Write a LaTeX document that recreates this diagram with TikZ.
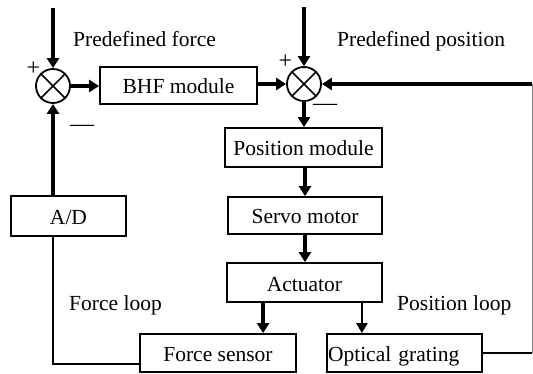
\documentclass[tikz,border=0pt]{standalone}
\usepackage{fontspec}
\setmainfont{Liberation Serif}
\usetikzlibrary{arrows.meta}
\begin{document}
\begin{tikzpicture}[x=1pt,y=-1pt,
  txt/.style={font=\fontsize{21.5}{24}\selectfont},
  box/.style={txt,draw,line width=1.8pt,inner sep=0pt,text height=17pt,text depth=0pt},
  sumnode/.style={draw,circle,line width=1.8pt,minimum size=34pt,inner sep=0pt},
  thk/.style={line width=3.5pt,-{Triangle[length=10pt,width=12pt]}},
  med/.style={line width=2.5pt,-{Triangle[length=10pt,width=11pt]}},
  thinline/.style={line width=1.3pt},
  lbl/.style={txt,inner sep=0pt,anchor=base west},
  sign/.style={font=\fontsize{24}{26}\selectfont,inner sep=0pt}]
\useasboundingbox (0,0) rectangle (533,374);
% summing junctions
\node[sumnode] (s1) at (53,86) {};
\node[sumnode] (s2) at (304,84) {};
\foreach \s in {s1,s2}{
  \draw[line width=1.6pt] (\s.north west) -- (\s.south east);
  \draw[line width=1.6pt] (\s.north east) -- (\s.south west);
}
% boxes
\node[box,minimum width=157pt,minimum height=37pt] (bhf) at (178.5,85.5) {BHF module};
\node[box,minimum width=157pt,minimum height=39pt] (pm) at (303.5,147.5) {Position module};
\node[box,minimum width=154pt,minimum height=37pt] (sm) at (305,215.5) {Servo motor};
\node[box,minimum width=155pt,minimum height=39pt] (act) at (304.5,282.5) {Actuator};
\node[box,minimum width=156pt,minimum height=38pt] (fs) at (218,353) {Force sensor};
\node[box,minimum width=155pt,minimum height=38pt,text width=153pt,align=left] (og) at (404.5,353) {Optical grating};
\node[box,minimum width=115pt,minimum height=40pt] (ad) at (68.5,216) {A/D};
% labels
\node[lbl] (pf) at (73,47) {Predefined force};
\node[lbl] (pp) at (337,47) {Predefined position};
\node[lbl] (fl) at (69,310) {Force loop};
\node[lbl] (pl) at (397,310) {Position loop};
\node[sign] (p1) at (33.5,69) {+};
\node[sign] (m1) at (82,128) {—};
\node[sign] (p2) at (285.5,62) {+};
\node[sign] (m2) at (325,107) {—};
% free ends
\coordinate (t1) at (53,8);
\coordinate (t2) at (304,7);
\coordinate (c1) at (532,84);
\coordinate (c2) at (532,353);
\coordinate (c3) at (53,364);
% connectors
\draw[thk] (t1) -- (s1.north);
\draw[thk] (t2) -- (s2.north);
\draw[thk] (s1.east) -- (s1.east -| bhf.west);
\draw[thk] (s2.west -| bhf.east) -- (s2.west);
\draw[thk] (s1.south |- ad.north) -- (s1.south);
\draw[thk] (s2.south) -- (s2.south |- pm.north);
\draw[thk] (sm.north |- pm.south) -- (sm.north);
\draw[thk] (sm.south) -- (sm.south |- act.north);
\draw[thk] ([xshift=37pt]act.south west) -- ([xshift=37pt]act.south west |- fs.north);
\draw[med] ([xshift=-21pt]act.south east) -- ([xshift=-21pt]act.south east |- og.north);
\draw[line width=2pt] (og.east) -- (c2);
\draw[line width=1pt,gray] (c2) -- (c1);
\draw[thk] (c1) -- (s2.east);
\draw[thinline] (s1.south |- ad.south) -- (c3) -- (c3 -| fs.west);
\end{tikzpicture}
\end{document}
